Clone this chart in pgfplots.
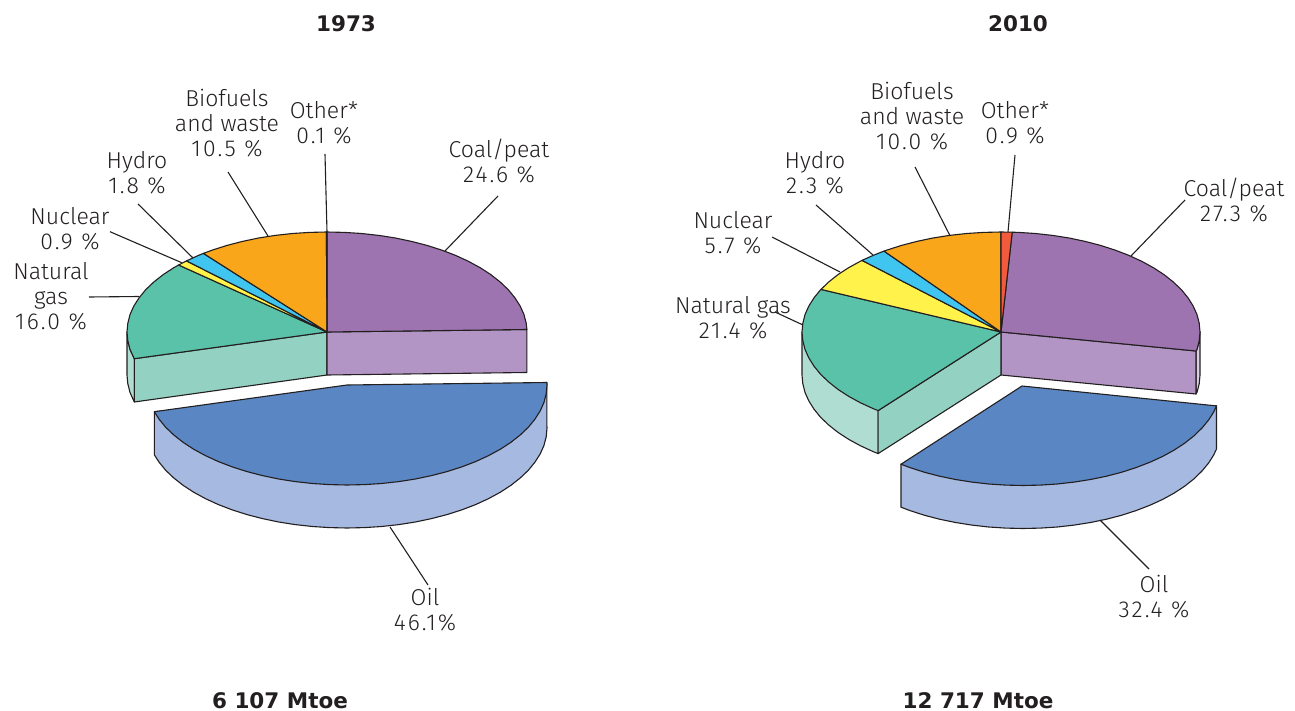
\documentclass[border=0pt]{standalone}
\usepackage{pgfplots}
\usepackage{fontspec}
\setmainfont{Fira Sans Light}
\newfontfamily\ttlfont{DejaVu Sans Bold}
\newcommand{\num}[1]{{\addfontfeature{LetterSpace=9}#1}}
\pgfplotsset{compat=1.18}
\definecolor{ink}{HTML}{231F20}
\definecolor{cCoal}{HTML}{9D74B0}
\definecolor{cCoalW}{HTML}{B295C4}
\definecolor{cCoalO}{HTML}{DCCFE5}
\definecolor{cOil}{HTML}{5A86C3}
\definecolor{cOilW}{HTML}{A6B9E0}
\definecolor{cGas}{HTML}{5BC2AA}
\definecolor{cGasW}{HTML}{93D1C2}
\definecolor{cGasO}{HTML}{B0DDD2}
\definecolor{cNuc}{HTML}{FFF24A}
\definecolor{cHyd}{HTML}{3FC5F0}
\definecolor{cBio}{HTML}{F9A61A}
\definecolor{cOth}{HTML}{F15A3C}
\tikzset{lab/.style={font=\fontsize{23}{25}\selectfont,align=center,text=ink,inner sep=0pt,anchor=center},
ttl/.style={font=\fontsize{21.5}{25}\selectfont\ttlfont,text=ink,inner sep=0pt,anchor=center}}
\pgfplotsset{ld/.style={ink,solid,mark=none,line width=1.1pt}}
\begin{document}
\begin{tikzpicture}
\begin{axis}[scale only axis,width=1295pt,height=711pt,xmin=0,xmax=1295,ymin=0,ymax=711,y dir=reverse,hide axis,clip=false,
  every axis plot/.append style={line width=1.1pt,draw=ink,line join=round,mark=none}]
% page extent
\addplot[draw=none,line width=0pt,forget plot] coordinates {(0,0)(1295,711)};
%% ---------- 1973 ----------
% gas outer wall
\addplot[fill=cGasO] coordinates {(134.3,358.7)(130,349.4)(127.8,340.7)(127,332)(127,375)(127.8,383.7)(130,392.4)(134.3,402)} -- cycle;
% gas face
\addplot[fill=cGasW] coordinates {(327,332)(134.3,358.7)(134.3,402)(327,375)} -- cycle;
% coal face
\addplot[fill=cCoalW] coordinates {(327,332)(526.9,329.5)(526.9,372.5)(327,375)} -- cycle;
% coal top
\addplot[fill=cCoal] coordinates {(327,332)(327,232)(344.4,232.4)(361.7,233.5)(378.8,235.4)(395.4,238)(411.5,241.4)(427,245.4)(441.7,250.1)(455.6,255.4)(468.4,261.3)(480.2,267.7)(490.8,274.6)(500.2,282)(508.3,289.7)(514.9,297.8)(520.2,306.1)(524,314.6)(526.2,323.3)(526.9,329.5)} -- cycle;
% gas top
\addplot[fill=cGas] coordinates {(327,332)(134.3,358.7)(130,349.4)(127.8,340.7)(127,332)(127.8,323.3)(130,314.6)(133.8,306.1)(139.1,297.8)(145.7,289.7)(153.8,282)(163.2,274.6)(173.8,267.7)(178.6,265)} -- cycle;
% nuclear
\addplot[fill=cNuc] coordinates {(327,332)(178.6,265)(186.5,260.9)} -- cycle;
% hydro
\addplot[fill=cHyd] coordinates {(327,332)(186.5,260.9)(198.4,255.4)(203.4,253.4)} -- cycle;
% biofuels
\addplot[fill=cBio] coordinates {(327,332)(203.4,253.4)(212.3,250.1)(227,245.4)(242.5,241.4)(258.6,238)(275.2,235.4)(292.3,233.5)(309.6,232.4)(326.4,232)} -- cycle;
% other
\addplot[fill=cOth] coordinates {(327,332)(326.4,232)(327,232)} -- cycle;
% oil wall
\addplot[fill=cOilW] coordinates {(546.9,382.5)(546.9,425.5)(547,428)(546.2,436.7)(544,445.4)(540.2,453.9)(534.9,462.2)(528.3,470.3)(520.2,478)(510.8,485.4)(500.2,492.3)(488.4,498.7)(475.6,504.6)(461.7,509.9)(447,514.6)(431.5,518.6)(415.4,522)(398.8,524.6)(381.7,526.5)(364.4,527.6)(347,528)(329.6,527.6)(312.3,526.5)(295.2,524.6)(278.6,522)(262.5,518.6)(247,514.6)(232.3,509.9)(218.4,504.6)(205.6,498.7)(193.8,492.3)(183.2,485.4)(173.8,478)(165.7,470.3)(159.1,462.2)(154.3,454.7)(154.3,411.7)} -- cycle;
% oil top
\addplot[fill=cOil] coordinates {(347,385)(546.9,382.5)(547,385)(546.2,393.7)(544,402.4)(540.2,410.9)(534.9,419.2)(528.3,427.3)(520.2,435)(510.8,442.4)(500.2,449.3)(488.4,455.7)(475.6,461.6)(461.7,466.9)(447,471.6)(431.5,475.6)(415.4,479)(398.8,481.6)(381.7,483.5)(364.4,484.6)(347,485)(329.6,484.6)(312.3,483.5)(295.2,481.6)(278.6,479)(262.5,475.6)(247,471.6)(232.3,466.9)(218.4,461.6)(205.6,455.7)(193.8,449.3)(183.2,442.4)(173.8,435)(165.7,427.3)(159.1,419.2)(154.3,411.7)} -- cycle;
% leaders
\addplot[ld] coordinates {(498,196)(445,251)};
\addplot[ld] coordinates {(325,154)(327,232)};
\addplot[ld] coordinates {(228,172)(268,236)};
\addplot[ld] coordinates {(138,204)(192.7,257.7)};
\addplot[ld] coordinates {(110,231.7)(181.7,262.7)};
\addplot[ld] coordinates {(89,297)(139,296.5)};
\addplot[ld] coordinates {(390,527)(428,585)};
%% ---------- 2010 ----------
% coal outer wall
\addplot[fill=cCoalO] coordinates {(1196,351)(1197,349.4)(1199.2,340.7)(1200,332)(1200,375)(1199.2,383.7)(1197,392.4)(1196,394)} -- cycle;
% coal face
\addplot[fill=cCoalW] coordinates {(1001,332)(1196,351)(1196,394)(1001,375)} -- cycle;
% gas outer wall
\addplot[fill=cGasO] coordinates {(878.1,410.6)(878.1,453.6)(873.1,451.6)(860.3,445.7)(848.6,439.3)(838,432.4)(828.7,425)(820.6,417.3)(814,409.2)(808.8,400.9)(805,392.4)(802.8,383.7)(802,375)(802,332)} -- cycle;
% gas face
\addplot[fill=cGasW] coordinates {(1001,332)(878.1,410.6)(878.1,453.6)(1001,375)} -- cycle;
% coal top
\addplot[fill=cCoal] coordinates {(1001,332)(1012.2,232.2)(1018.3,232.4)(1035.5,233.5)(1052.5,235.4)(1069.1,238)(1085.1,241.4)(1100.5,245.4)(1115.1,250.1)(1128.9,255.4)(1141.7,261.3)(1153.4,267.7)(1164,274.6)(1173.3,282)(1181.4,289.7)(1188,297.8)(1193.2,306.1)(1197,314.6)(1199.2,323.3)(1200,332)(1199.2,340.7)(1197,349.4)(1196,351)} -- cycle;
% gas top
\addplot[fill=cGas] coordinates {(1001,332)(878.1,410.6)(873.1,408.6)(860.3,402.7)(848.6,396.3)(838,389.4)(828.7,382)(820.6,374.3)(814,366.2)(808.8,357.9)(805,349.4)(802.8,340.7)(802,332)(802.8,323.3)(805,314.6)(808.8,306.1)(814,297.8)(820.6,289.7)(821,289.4)} -- cycle;
% nuclear
\addplot[fill=cNuc] coordinates {(1001,332)(821,289.4)(828.7,282)(838,274.6)(848.6,267.7)(860.3,261.3)(862,260.4)} -- cycle;
% hydro
\addplot[fill=cHyd] coordinates {(1001,332)(862,260.4)(873.1,255.4)(884,251.1)} -- cycle;
% biofuels
\addplot[fill=cBio] coordinates {(1001,332)(884,251.1)(886.9,250.1)(901.5,245.4)(916.9,241.4)(932.9,238)(949.5,235.4)(966.5,233.5)(983.7,232.4)(1001,232)} -- cycle;
% other
\addplot[fill=cOth] coordinates {(1001,332)(1001,232)(1012.2,232.2)} -- cycle;
% oil wall
\addplot[fill=cOilW] coordinates {(1216.5,405.9)(1216.5,448.9)(1213.8,454.8)(1208.6,463)(1202,471)(1194,478.8)(1184.8,486.1)(1174.3,493)(1162.7,499.4)(1150,505.2)(1136.3,510.5)(1121.8,515.2)(1106.5,519.2)(1090.5,522.5)(1074.1,525.1)(1057.3,527)(1040.2,528.1)(1023,528.5)(1005.8,528.1)(988.7,527)(971.9,525.1)(955.5,522.5)(939.5,519.2)(924.2,515.2)(909.7,510.5)(901,507.2)(901,464.2)} -- cycle;
% oil top
\addplot[fill=cOil] coordinates {(1022,386)(1216.5,405.9)(1213.8,411.8)(1208.6,420)(1202,428)(1194,435.8)(1184.8,443.1)(1174.3,450)(1162.7,456.4)(1150,462.2)(1136.3,467.5)(1121.8,472.2)(1106.5,476.2)(1090.5,479.5)(1074.1,482.1)(1057.3,484)(1040.2,485.1)(1023,485.5)(1005.8,485.1)(988.7,484)(971.9,482.1)(955.5,479.5)(939.5,476.2)(924.2,472.2)(909.7,467.5)(901,464.2)} -- cycle;
% leaders
\addplot[ld] coordinates {(1185,200)(1131,256)};
\addplot[ld] coordinates {(1100,520)(1149,569)};
\addplot[ld] coordinates {(775,312)(803,325)};
\addplot[ld] coordinates {(772,237)(840,272)};
\addplot[ld] coordinates {(816,205)(873,255)};
\addplot[ld] coordinates {(915,167)(950,235.7)};
\addplot[ld] coordinates {(1015,155)(1008,232)};
%% ---------- text ----------
\node[ttl] at (axis cs:346,24) {1973};
\node[ttl] at (axis cs:1018,24) {2010};
\node[ttl] at (axis cs:280,701) {6 107 Mtoe};
\node[ttl] at (axis cs:978,701) {12 717 Mtoe};
\node[lab] at (axis cs:227,123) {Biofuels\\and waste\\\num{10.5 \%}};
\node[lab] at (axis cs:324,123) {Other*\\\num{0.1 \%}};
\node[lab] at (axis cs:137,172.5) {Hydro\\\num{1.8 \%}};
\node[lab] at (axis cs:70,228.5) {Nuclear\\\num{0.9 \%}};
\node[lab] at (axis cs:51,296.5) {Natural\\gas\\\num{16.0 \%}};
\node[lab] at (axis cs:499,161.5) {Coal/peat\\\num{24.6 \%}};
\node[lab] at (axis cs:425,609.5) {Oil\\\num{46.1\%}};
\node[lab] at (axis cs:912,116) {Biofuels\\and waste\\\num{10.0 \%}};
\node[lab] at (axis cs:1015,122.5) {Other*\\\num{0.9 \%}};
\node[lab] at (axis cs:815,172.5) {Hydro\\\num{2.3 \%}};
\node[lab] at (axis cs:733,232.5) {Nuclear\\\num{5.7 \%}};
\node[lab] at (axis cs:733,317.5) {Natural gas\\\num{21.4 \%}};
\node[lab] at (axis cs:1234,200.5) {Coal/peat\\\num{27.3 \%}};
\node[lab] at (axis cs:1154,597) {Oil\\\num{32.4 \%}};
\end{axis}
\end{tikzpicture}
\end{document}
